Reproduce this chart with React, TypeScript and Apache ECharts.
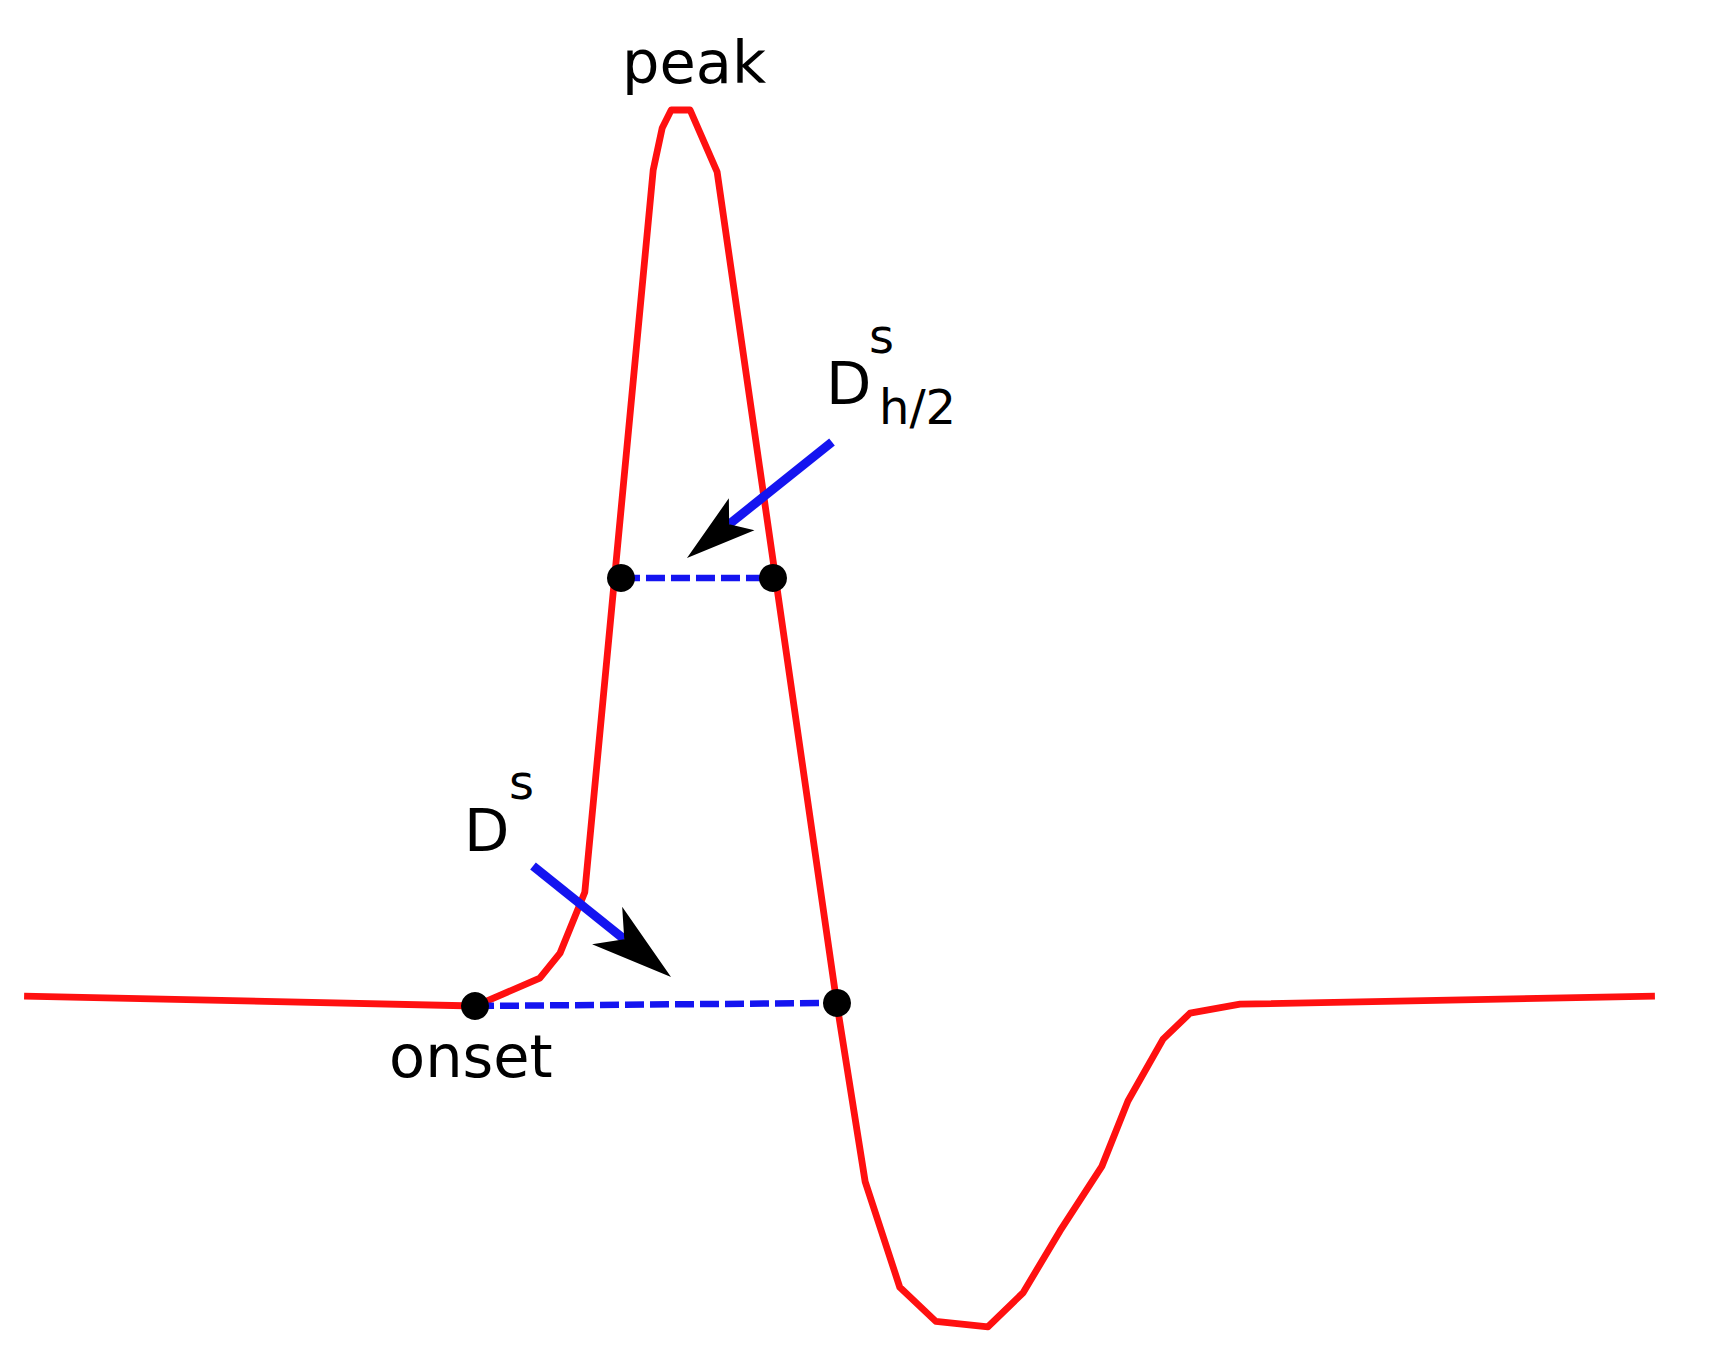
import React, { useEffect, useRef } from 'react';
import * as echarts from 'echarts';

// Waveform: time (ms, relative to onset) and amplitude (normalised to the peak)
const signalT = [-100.2, 0, 14.4, 18.9, 24.4, 39.6, 41.6, 43.6, 47.8, 53.8, 80.4, 86.7, 94.4, 102.4, 114.0, 121.8, 130.0, 139.3, 145.1, 152.9, 158.9, 170.0, 262.2];
const signalA = [0.011, 0, 0.031, 0.059, 0.127, 0.933, 0.98, 1.0, 1.0, 0.931, 0.003, -0.196, -0.314, -0.352, -0.358, -0.32, -0.251, -0.179, -0.106, -0.037, -0.008, 0.002, 0.011];

// Marked points: onset, end of spike at baseline, half-height crossings
const dotT = [0, 80.44, 32.44, 66.22];
const dotA = [0, 0.0034, 0.4777, 0.4777];

// Dashed duration segments (indices into the dot arrays)
const segmentFrom = [0, 2];
const segmentTo = [1, 3];

// Pointer arrows: start and tip
const arrowStartT = [79.33, 12.89];
const arrowStartA = [0.6295, 0.1563];
const arrowTipT = [47.11, 43.56];
const arrowTipA = [0.5, 0.0324];

// Annotation texts and their anchors
const labelText = ['peak', 'onset', 'D', 's', 'h/2', 'D', 's'];
const labelT = [32.67, -19.1, 78.0, 87.56, 89.78, -2.44, 7.56];
const labelA = [1.0525, -0.0569, 0.6942, 0.7478, 0.6685, 0.1964, 0.25];
const labelSize = [59, 59, 59, 48, 48, 59, 48];

const RED = '#ff1010';
const BLUE = '#1414f0';
const FONT = '"DejaVu Sans", "Noto Sans", sans-serif';
const headLen = [70, 82];
const headHalf = [20.5, 24];
const headNotch = [54, 60];

export default function App() {
  const ref = useRef<HTMLDivElement>(null);
  useEffect(() => {
    const chart = echarts.init(ref.current!, null, { renderer: 'svg' });
    const signal = signalT.map((t, i) => [t, signalA[i]]);
    const dots = dotT.map((t, i) => [t, dotA[i]]);
    const segments = segmentFrom.map((f, i) => ({
      type: 'line',
      data: [dots[f], dots[segmentTo[i]]],
      showSymbol: false,
      silent: true,
      z: 3,
      lineStyle: { color: BLUE, width: 6.5, type: [19, 6], cap: 'butt', opacity: 1 },
    }));
    const option: any = {
      animation: false,
      backgroundColor: '#ffffff',
      grid: { left: 0, right: 0, top: 0, bottom: 0, containLabel: false },
      xAxis: { type: 'value', min: -105.556, max: 278.444, show: false },
      yAxis: { type: 'value', min: -0.40625, max: 1.12277, show: false },
      series: [
        {
          type: 'line',
          data: signal,
          showSymbol: false,
          silent: true,
          z: 2,
          lineStyle: { color: RED, width: 6.8, join: 'round', cap: 'butt', opacity: 1 },
        },
        ...segments,
        {
          type: 'custom',
          coordinateSystem: 'cartesian2d',
          clip: false,
          silent: true,
          z: 4,
          data: arrowStartT.map((t, i) => [t, arrowStartA[i], arrowTipT[i], arrowTipA[i], i]),
          encode: { x: [0, 2], y: [1, 3] },
          renderItem: (params: any, api: any) => {
            const p0 = api.coord([api.value(0), api.value(1)]);
            const p1 = api.coord([api.value(2), api.value(3)]);
            const k = api.value(4);
            const dx = p1[0] - p0[0];
            const dy = p1[1] - p0[1];
            const len = Math.sqrt(dx * dx + dy * dy);
            const ux = dx / len;
            const uy = dy / len;
            const px = -uy;
            const py = ux;
            const L = headLen[k];
            const W = headHalf[k];
            const N = headNotch[k];
            const base = [p1[0] - ux * L, p1[1] - uy * L];
            const notch = [p1[0] - ux * N, p1[1] - uy * N];
            const b1 = [base[0] + px * W, base[1] + py * W];
            const b2 = [base[0] - px * W, base[1] - py * W];
            return {
              type: 'group',
              children: [
                {
                  type: 'line',
                  shape: { x1: p0[0], y1: p0[1], x2: notch[0], y2: notch[1] },
                  style: { stroke: BLUE, lineWidth: 9, lineCap: 'butt' },
                },
                {
                  type: 'polygon',
                  shape: { points: [p1, b1, notch, b2] },
                  style: { fill: '#000000', stroke: null },
                },
              ],
            };
          },
        },
        {
          type: 'scatter',
          data: dots,
          symbol: 'circle',
          symbolSize: 28,
          silent: true,
          z: 5,
          itemStyle: { color: '#000000', opacity: 1 },
        },
      ],
    };
    chart.setOption(option);
    const graphic = labelText.map((text, i) => {
      const pt = chart.convertToPixel({ gridIndex: 0 }, [labelT[i], labelA[i]]) as number[];
      return {
        type: 'text',
        x: pt[0],
        y: pt[1],
        z: 10,
        silent: true,
        style: {
          text,
          fill: '#000000',
          font: `${labelSize[i]}px ${FONT}`,
          textAlign: 'left',
          textVerticalAlign: 'middle',
          align: 'left',
          verticalAlign: 'middle',
        },
      };
    });
    chart.setOption({ graphic });
    return () => chart.dispose();
  }, []);
  return (
    <div
      ref={ref}
      style={{ position: 'absolute', left: 0, top: 0, width: 1728, height: 1370, background: '#ffffff' }}
    />
  );
}
